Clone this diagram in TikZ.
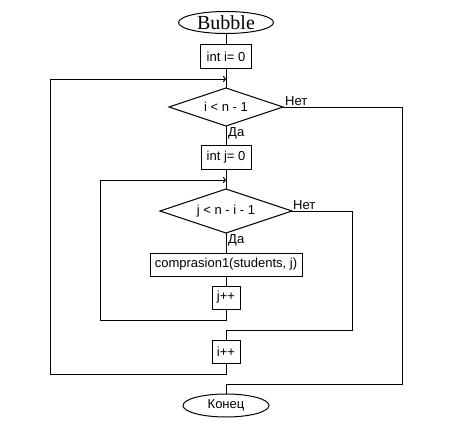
\documentclass[tikz,border=0pt]{standalone}
\usepackage{fontspec}
\setmainfont{Liberation Sans}
\newfontfamily\serifff{Liberation Serif}
\usetikzlibrary{shapes.geometric,arrows.meta}
\begin{document}
\begin{tikzpicture}[x=1pt,y=-1pt,
  line/.style={draw=black,line width=1pt},
  arr/.style={line,-{To[length=3pt,width=6pt]}},
  txt/.style={font=\fontsize{13}{15}\selectfont},
  proc/.style={draw=black,line width=1pt,rectangle,inner sep=0pt,txt},
  dec/.style={inner sep=0pt,txt},
  term/.style={draw=black,line width=1pt,ellipse,inner sep=0pt},
  lbl/.style={txt,inner sep=0pt}]
\useasboundingbox[fill=white] (0,0) rectangle (452,428);
\node[term,minimum width=95pt,minimum height=22pt,font=\serifff\fontsize{20}{22}\selectfont] (start) at (226,22.5) {Bubble};
\node[proc,minimum width=51pt,minimum height=23pt] (i0) at (226,56.5) {int i= 0};
\node[dec] (ci) at (226,107) {i < n - 1};
\node[proc,minimum width=50pt,minimum height=24pt] (j0) at (226,157) {int j= 0};
\node[dec] (cj) at (226,211) {j < n - i - 1};
\node[proc,minimum width=152pt,minimum height=23pt] (cmp) at (226,264.5) {comprasion1(students, j)};
\node[proc,minimum width=28pt,minimum height=23pt] (jpp) at (226,297.5) {j++};
\node[proc,minimum width=28pt,minimum height=23pt] (ipp) at (226,351.5) {i++};
\node[term,minimum width=86pt,minimum height=23pt,txt] (end) at (226,405.5) {Конец};
\coordinate (ci top) at (226,88);
\coordinate (ci left) at (169,107);
\coordinate (ci right) at (283,107);
\coordinate (ci bot) at (226,126);
\coordinate (cj top) at (226,189);
\coordinate (cj left) at (160,211);
\coordinate (cj right) at (292,211);
\coordinate (cj bot) at (226,233);
\coordinate (oa) at (226,79);
\coordinate (ia) at (226,180);
\draw[line] (start) -- (i0);
\draw[line] (i0) -- (ci top);
\draw[line] (ci bot) -- (j0);
\draw[line] (j0) -- (cj top);
\draw[line] (cj bot) -- (cmp);
\draw[line] (cmp) -- (jpp);
\draw[line] (ci top) -- (ci left) -- (ci bot) -- (ci right) -- cycle;
\draw[line] (cj top) -- (cj left) -- (cj bot) -- (cj right) -- cycle;
\draw[arr] (jpp.south) -- (226,320) -- (100.5,320) -- (100.5,180) -- (ia);
\draw[line] (cj right) -- (352,211) -- (352,330) -- (226,330) -- (ipp.north);
\draw[arr] (ipp.south) -- (226,374) -- (50.5,374) -- (50.5,79) -- (oa);
\draw[line] (ci right) -- (402.5,107) -- (402.5,384) -- (226,384) -- (end.north);
\node[lbl,anchor=south west] at (285,106) {Нет};
\node[lbl,anchor=north west] at (228,127.5) {Да};
\node[lbl,anchor=south west] at (293,210) {Нет};
\node[lbl,anchor=north west] at (228,234.5) {Да};
\end{tikzpicture}
\end{document}
